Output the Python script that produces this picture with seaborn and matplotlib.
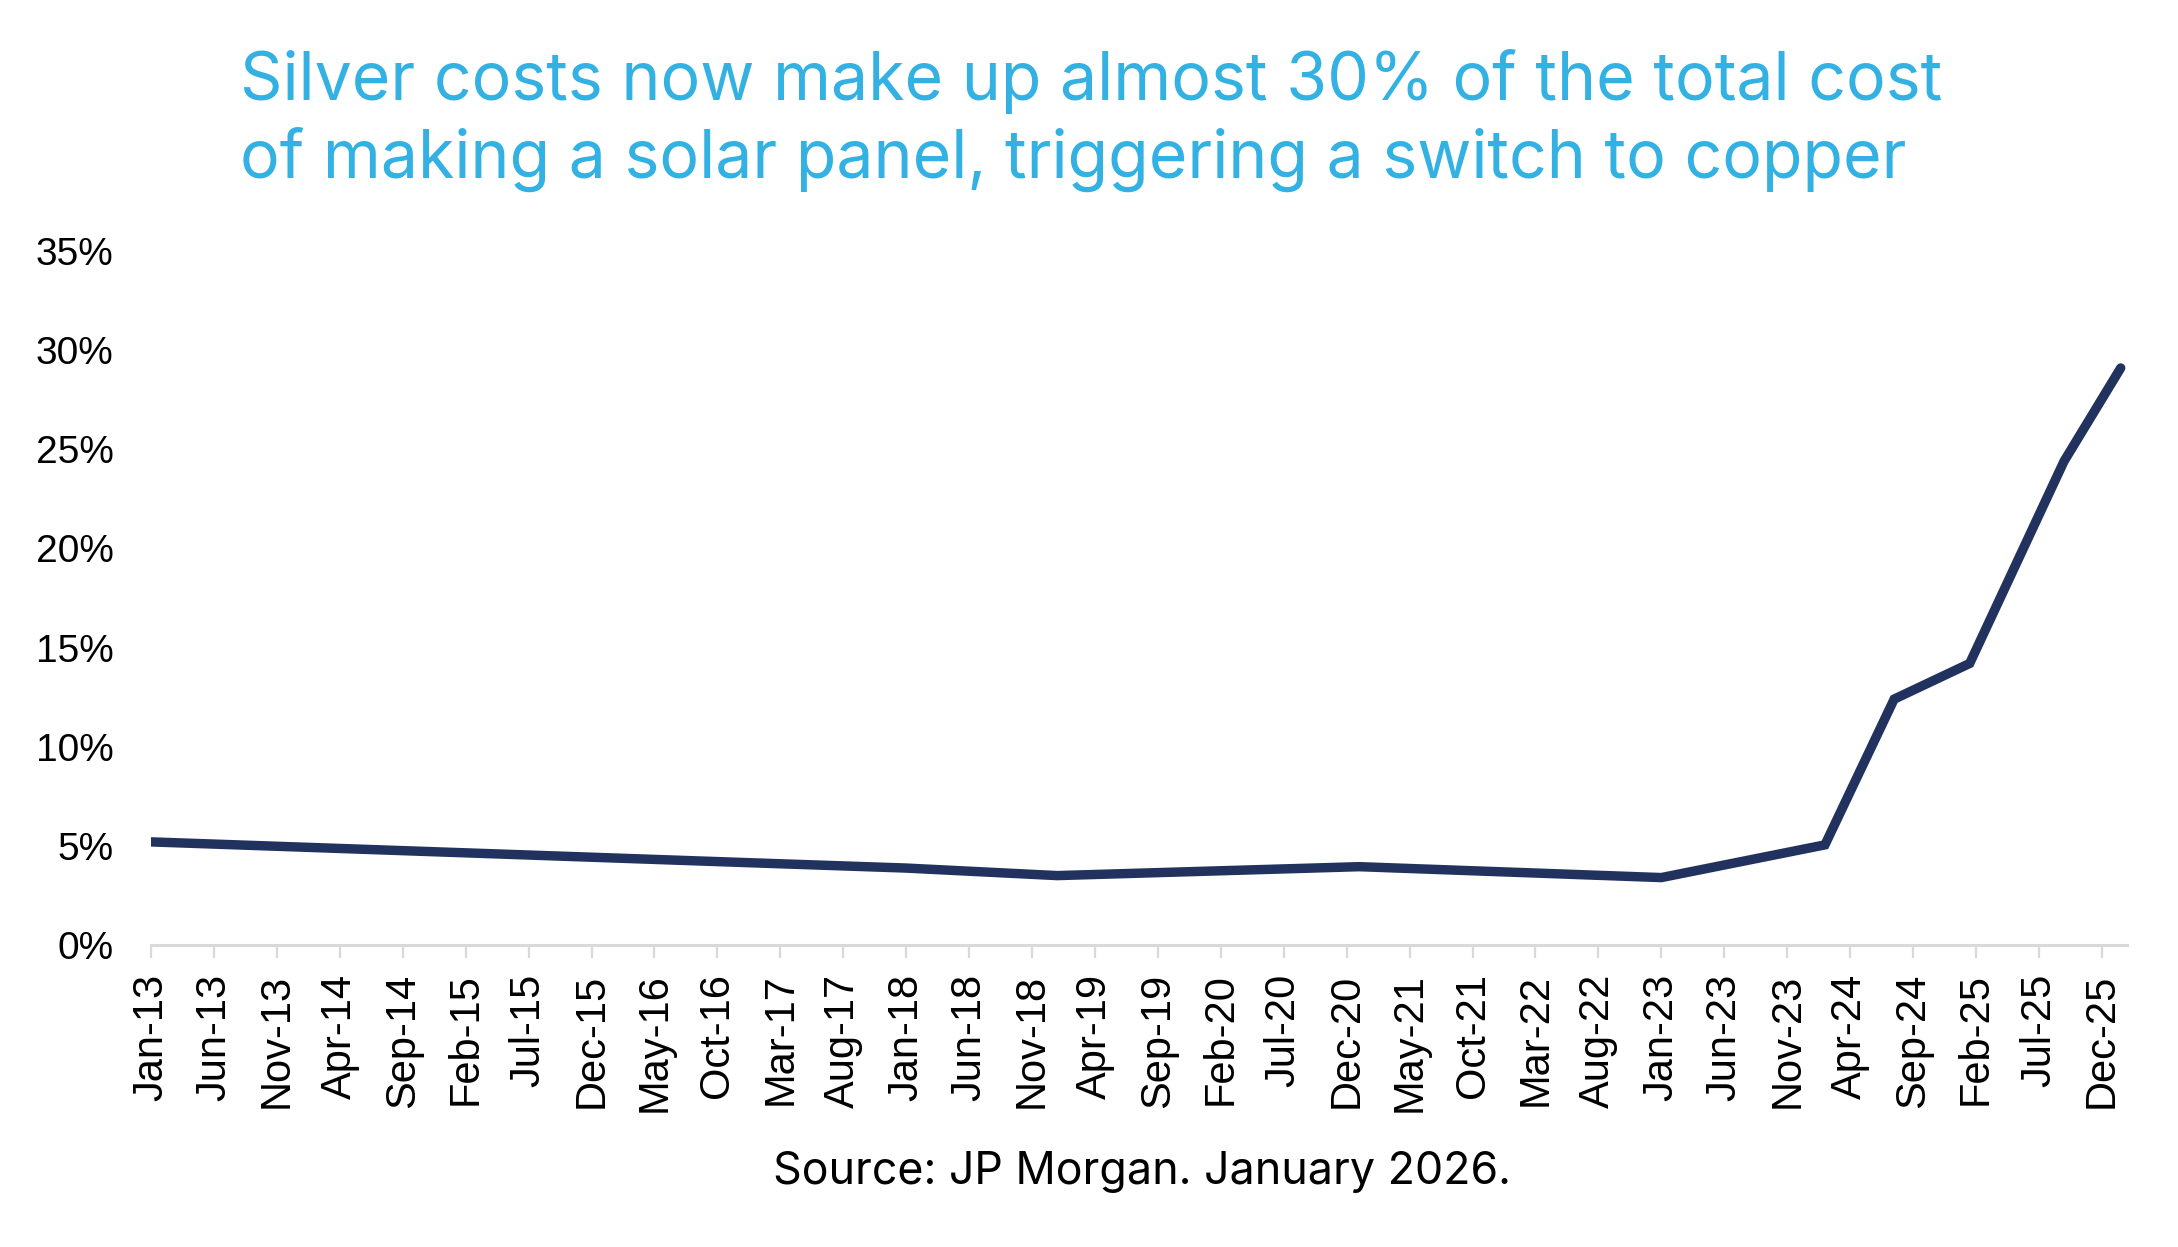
import matplotlib
matplotlib.use("Agg")
import matplotlib.pyplot as plt
import seaborn as sns
import pandas as pd

# ---- data ----
# x = months since Jan-2013
months = [0, 24, 48, 60, 72, 96, 120, 133, 138.5, 144.5, 152, 156.5]
silver_share = [5.2, 4.67, 4.14, 3.88, 3.5, 3.95, 3.4, 5.05, 12.4, 14.2, 24.4, 29.1]

x_tick_labels = ["Jan-13", "Jun-13", "Nov-13", "Apr-14", "Sep-14", "Feb-15", "Jul-15",
                 "Dec-15", "May-16", "Oct-16", "Mar-17", "Aug-17", "Jan-18", "Jun-18",
                 "Nov-18", "Apr-19", "Sep-19", "Feb-20", "Jul-20", "Dec-20", "May-21",
                 "Oct-21", "Mar-22", "Aug-22", "Jan-23", "Jun-23", "Nov-23", "Apr-24",
                 "Sep-24", "Feb-25", "Jul-25", "Dec-25"]
x_tick_step = 5
y_ticks = [0, 5, 10, 15, 20, 25, 30, 35]
y_tick_labels = [f"{v}%" for v in y_ticks]

title_lines = ["Silver costs now make up almost 30% of the total cost",
               "of making a solar panel, triggering a switch to copper"]
source_text = "Source: JP Morgan. January 2026."

df = pd.DataFrame({"month": months, "share": silver_share})

# ---- style ----
sns.set_theme(style="white")
plt.rcParams["font.family"] = ["Liberation Sans", "DejaVu Sans"]

W, H, DPI = 2178, 1247, 100
fig = plt.figure(figsize=(W / DPI, H / DPI), dpi=DPI)
fig.patch.set_facecolor("white")

left, right = 151 / W, 2127 / W
top, bottom = 1 - 251 / H, 1 - 945 / H
ax = fig.add_axes([left, bottom, right - left, top - bottom])

sns.lineplot(data=df, x="month", y="share", ax=ax, color="#22325F",
             linewidth=6.8, solid_capstyle="round", solid_joinstyle="miter")

ax.set_xlim(0, 157)
ax.set_ylim(0, 35)
ax.set_xticks([i * x_tick_step for i in range(len(x_tick_labels))])
ax.set_xticklabels(x_tick_labels, rotation=90, fontsize=30, color="black")
ax.set_yticks(y_ticks)
ax.set_yticklabels(y_tick_labels, fontsize=28, color="black")
ax.set_xlabel("")
ax.set_ylabel("")

for s in ["left", "right", "top"]:
    ax.spines[s].set_visible(False)
ax.spines["bottom"].set_color("#D9D9D9")
ax.spines["bottom"].set_linewidth(2.2)
ax.tick_params(axis="x", direction="out", length=9.5, width=1.6, color="#D9D9D9",
               pad=11, bottom=True)
ax.tick_params(axis="y", length=0, pad=27)
ax.grid(False)

# ---- title & source ----
title_font = ["Inter", "DejaVu Sans"]
t1 = fig.text(240 / W, 1 - 100 / H, title_lines[0], ha="left", va="baseline",
              color="#33B1E2", fontsize=46, family=title_font)
t2 = fig.text(240 / W, 1 - 178 / H, title_lines[1], ha="left", va="baseline",
              color="#33B1E2", fontsize=46, family=title_font)
src = fig.text(1142 / W, 1 - 1184 / H, source_text, ha="center", va="baseline",
               color="black", fontsize=30, family=title_font)

fig.canvas.draw()
r = fig.canvas.get_renderer()
w1 = t1.get_window_extent(r).width
fs = t1.get_fontsize() * 1700 / w1
t1.set_fontsize(fs)
t2.set_fontsize(fs)
ws = src.get_window_extent(r).width
src.set_fontsize(src.get_fontsize() * 739 / ws)

fig.savefig("out.png", dpi=DPI, facecolor="white")
